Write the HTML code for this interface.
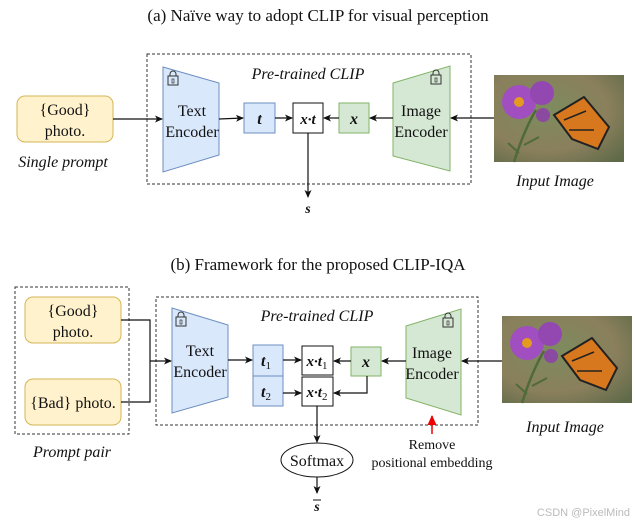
<!DOCTYPE html>
<html><head><meta charset="utf-8"><style>
html,body{margin:0;padding:0;background:#fff}
svg{display:block}
text{font-family:"Liberation Serif",serif;fill:#111}
</style></head><body>
<svg width="635" height="524" viewBox="0 0 635 524" xmlns="http://www.w3.org/2000/svg">
<defs>
<marker id="a" markerWidth="8" markerHeight="8" refX="7" refY="4" orient="auto" markerUnits="userSpaceOnUse"><path d="M0,0.5 L8,4 L0,7.5 L2,4z" fill="#111"/></marker>
<marker id="r" markerWidth="10" markerHeight="10" refX="9" refY="5" orient="auto" markerUnits="userSpaceOnUse"><path d="M0,0.5 L10,5 L0,9.5z" fill="#e00"/></marker>
<radialGradient id="bg" cx="40%" cy="40%" r="80%"><stop offset="0" stop-color="#7d8c5e"/><stop offset="0.6" stop-color="#8a7f5c"/><stop offset="1" stop-color="#5e6a48"/></radialGradient>
<g id="photo">
<rect width="130" height="87" fill="url(#bg)"/>
<path d="M20,87 Q30,55 42,35" stroke="#4f6b3a" stroke-width="2.5" fill="none"/>
<path d="M30,70 L45,62 M25,78 L14,68" stroke="#4f6b3a" stroke-width="2"/>
<circle cx="25" cy="27" r="17" fill="#a04ec0"/><circle cx="25" cy="27" r="5" fill="#e49a20"/>
<circle cx="48" cy="18" r="12" fill="#9248b0"/><circle cx="49" cy="40" r="7" fill="#8a4aa0"/>
<path d="M60,40 L90,22 L115,52 L104,74 L78,64z" fill="#d8781e" stroke="#222" stroke-width="2"/>
<path d="M70,45 L92,36 M75,55 L100,55" stroke="#222" stroke-width="1.5"/>
</g>
<g id="lock"><rect x="0" y="5" width="10" height="9" fill="none" stroke="#333" stroke-width="1"/><path d="M2,5 V3 A3,3 0 0 1 8,3 V5" fill="none" stroke="#333" stroke-width="1"/><rect x="4" y="8" width="2" height="4" fill="none" stroke="#333" stroke-width="0.7"/></g>
</defs>

<!-- (a) -->
<text x="318" y="21" font-size="17" text-anchor="middle">(a) Naïve way to adopt CLIP for visual perception</text>
<rect x="147" y="54" width="324" height="130" fill="none" stroke="#333" stroke-dasharray="3,2"/>
<text x="308" y="79" font-size="16" font-style="italic" text-anchor="middle">Pre-trained CLIP</text>
<rect x="17" y="96" width="96" height="46" rx="8" fill="#fff2cc" stroke="#d6b656"/>
<text x="65" y="115" font-size="16" text-anchor="middle">{Good}</text>
<text x="65" y="136" font-size="16" text-anchor="middle">photo.</text>
<text x="63" y="167" font-size="16" font-style="italic" text-anchor="middle">Single prompt</text>
<polygon points="163,67 219,83 219,155 163,172" fill="#dae8fc" stroke="#6c8ebf"/>
<use href="#lock" x="168" y="71"/>
<text x="192" y="116" font-size="16" text-anchor="middle">Text</text>
<text x="192" y="137" font-size="16" text-anchor="middle">Encoder</text>
<polygon points="393,83 450,66 450,171 393,156" fill="#d5e8d4" stroke="#82b366"/>
<use href="#lock" x="431" y="70"/>
<text x="421" y="116" font-size="16" text-anchor="middle">Image</text>
<text x="421" y="137" font-size="16" text-anchor="middle">Encoder</text>
<rect x="244" y="103" width="31" height="30" fill="#dae8fc" stroke="#6c8ebf"/>
<text x="259.5" y="124" font-size="16" font-weight="bold" font-style="italic" text-anchor="middle">t</text>
<rect x="293" y="103" width="30" height="30" fill="#fff" stroke="#111"/>
<text x="308" y="124" font-size="15" font-weight="bold" font-style="italic" text-anchor="middle">x·t</text>
<rect x="339" y="103" width="30" height="30" fill="#d5e8d4" stroke="#82b366"/>
<text x="354" y="124" font-size="16" font-weight="bold" font-style="italic" text-anchor="middle">x</text>
<use href="#photo" x="494" y="75"/>
<text x="555" y="186" font-size="16" font-style="italic" text-anchor="middle">Input Image</text>
<g stroke="#111" stroke-width="1.2" fill="none">
<line x1="113" y1="119" x2="162" y2="119" marker-end="url(#a)"/>
<line x1="219" y1="119" x2="243" y2="118" marker-end="url(#a)"/>
<line x1="275" y1="118" x2="292" y2="118" marker-end="url(#a)"/>
<line x1="339" y1="118" x2="324" y2="118" marker-end="url(#a)"/>
<line x1="393" y1="118" x2="370" y2="118" marker-end="url(#a)"/>
<line x1="494" y1="118" x2="451" y2="118" marker-end="url(#a)"/>
<line x1="308" y1="133" x2="308" y2="197" marker-end="url(#a)"/>
</g>
<text x="308" y="213" font-size="14" font-weight="bold" font-style="italic" text-anchor="middle">s</text>

<!-- (b) -->
<text x="318" y="270" font-size="17" text-anchor="middle">(b) Framework for the proposed CLIP-IQA</text>
<rect x="15" y="287" width="114" height="147" fill="none" stroke="#333" stroke-dasharray="3,2"/>
<rect x="156" y="297" width="322" height="128" fill="none" stroke="#333" stroke-dasharray="3,2"/>
<text x="317" y="321" font-size="16" font-style="italic" text-anchor="middle">Pre-trained CLIP</text>
<rect x="25" y="297" width="96" height="46" rx="8" fill="#fff2cc" stroke="#d6b656"/>
<text x="73" y="316" font-size="16" text-anchor="middle">{Good}</text>
<text x="73" y="337" font-size="16" text-anchor="middle">photo.</text>
<rect x="25" y="379" width="96" height="46" rx="8" fill="#fff2cc" stroke="#d6b656"/>
<text x="73" y="408" font-size="16" text-anchor="middle">{Bad} photo.</text>
<text x="72" y="457" font-size="16" font-style="italic" text-anchor="middle">Prompt pair</text>
<polygon points="172,308 228,325 228,397 172,413" fill="#dae8fc" stroke="#6c8ebf"/>
<use href="#lock" x="176" y="312"/>
<text x="200" y="356" font-size="16" text-anchor="middle">Text</text>
<text x="200" y="377" font-size="16" text-anchor="middle">Encoder</text>
<polygon points="406,326 461,309 461,415 406,398" fill="#d5e8d4" stroke="#82b366"/>
<use href="#lock" x="443" y="313"/>
<text x="432" y="358" font-size="16" text-anchor="middle">Image</text>
<text x="432" y="379" font-size="16" text-anchor="middle">Encoder</text>
<rect x="253" y="345" width="30" height="31" fill="#dae8fc" stroke="#6c8ebf"/>
<rect x="253" y="376" width="30" height="30" fill="#dae8fc" stroke="#6c8ebf"/>
<text x="266" y="366" font-size="16" font-weight="bold" font-style="italic" text-anchor="middle">t<tspan font-size="11" font-weight="normal" font-style="normal" dy="3">1</tspan></text>
<text x="266" y="397" font-size="16" font-weight="bold" font-style="italic" text-anchor="middle">t<tspan font-size="11" font-weight="normal" font-style="normal" dy="3">2</tspan></text>
<rect x="302" y="346" width="31" height="29" fill="#fff" stroke="#111"/>
<rect x="302" y="377" width="31" height="29" fill="#fff" stroke="#111"/>
<text x="317" y="366" font-size="15" font-weight="bold" font-style="italic" text-anchor="middle">x·t<tspan font-size="11" font-weight="normal" font-style="normal" dy="3">1</tspan></text>
<text x="317" y="397" font-size="15" font-weight="bold" font-style="italic" text-anchor="middle">x·t<tspan font-size="11" font-weight="normal" font-style="normal" dy="3">2</tspan></text>
<rect x="351" y="347" width="30" height="29" fill="#d5e8d4" stroke="#82b366"/>
<text x="366" y="367" font-size="16" font-weight="bold" font-style="italic" text-anchor="middle">x</text>
<use href="#photo" x="502" y="316"/>
<text x="565" y="432" font-size="16" font-style="italic" text-anchor="middle">Input Image</text>
<g stroke="#111" stroke-width="1.2" fill="none">
<polyline points="121,320 150,320 150,402 121,402"/>
<line x1="150" y1="361" x2="171" y2="361" marker-end="url(#a)"/>
<line x1="228" y1="360" x2="252" y2="360" marker-end="url(#a)"/>
<line x1="283" y1="360" x2="301" y2="360" marker-end="url(#a)"/>
<line x1="283" y1="393" x2="301" y2="393" marker-end="url(#a)"/>
<line x1="351" y1="361" x2="334" y2="361" marker-end="url(#a)"/>
<polyline points="367,376 367,393 334,393" marker-end="url(#a)"/>
<line x1="406" y1="361" x2="382" y2="361" marker-end="url(#a)"/>
<line x1="502" y1="361" x2="462" y2="361" marker-end="url(#a)"/>
<line x1="317" y1="406" x2="317" y2="442" marker-end="url(#a)"/>
<line x1="317" y1="477" x2="317" y2="493" marker-end="url(#a)"/>
</g>
<line x1="432" y1="434" x2="432" y2="416" stroke="#e00" stroke-width="1.5" marker-end="url(#r)"/>
<text x="432" y="449" font-size="14" text-anchor="middle">Remove</text>
<text x="432" y="467" font-size="14" text-anchor="middle">positional embedding</text>
<ellipse cx="317" cy="460" rx="36" ry="17" fill="#fff" stroke="#111"/>
<text x="317" y="466" font-size="16" text-anchor="middle">Softmax</text>
<text x="317" y="511" font-size="14" font-weight="bold" font-style="italic" text-anchor="middle">s</text>
<line x1="313" y1="500" x2="321" y2="500" stroke="#111" stroke-width="1"/>
<text x="630" y="516" font-size="11" text-anchor="end" style="font-family:'Liberation Sans',sans-serif;fill:#bbb">CSDN @PixelMind</text>
</svg>
</body></html>
